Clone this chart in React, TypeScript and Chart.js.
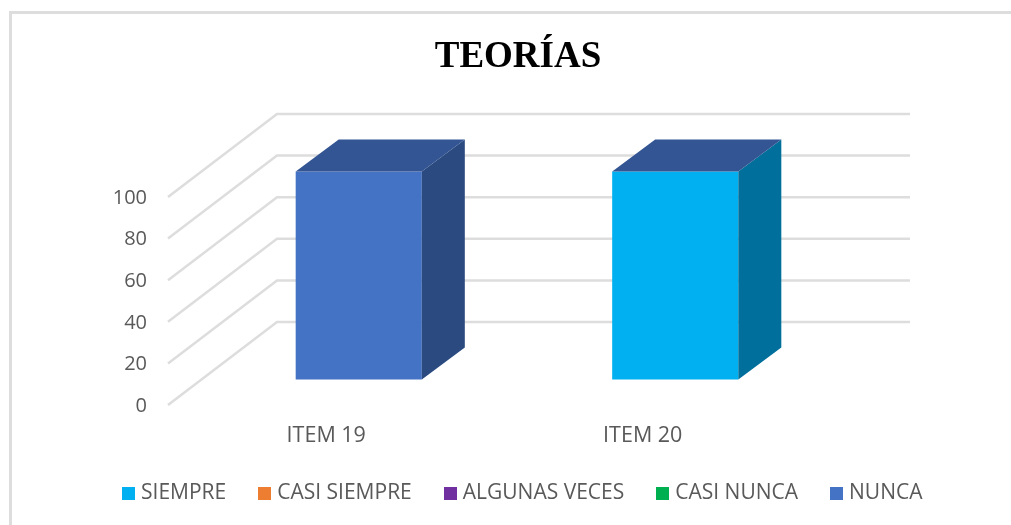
import React, { useEffect, useRef } from "react";
import { Chart, registerables } from "chart.js";

Chart.register(...registerables);

const categories = ["ITEM 19", "ITEM 20"];
const seriesNames = ["SIEMPRE", "CASI SIEMPRE", "ALGUNAS VECES", "CASI NUNCA", "NUNCA"];
const siempre = [0, 100];
const casiSiempre = [0, 0];
const algunasVeces = [0, 0];
const casiNunca = [0, 0];
const nunca = [100, 0];
const seriesValues = [siempre, casiSiempre, algunasVeces, casiNunca, nunca];
const frontColors = ["#00B0F0", "#ED7D31", "#7030A0", "#00B050", "#4472C4"];
const sideColors = ["#006F9B", "#A65722", "#4E2270", "#007B38", "#2A4A80"];
const topColor = "#335593";
const gridColor = "#DDDDDD";
const textColor = "#595959";
const fontFamily = "'Open Sans', sans-serif";

const wallDepth = { x: 109, y: 83 };
const barOffset = { x: 32.5, y: 25.5 };
const barDepth = { x: 43, y: 32 };
const titleShift = 12.5;
const legendShift = 19;

function swatch(color: string) {
  const c = document.createElement("canvas");
  c.width = 13;
  c.height = 13;
  const g = c.getContext("2d")!;
  g.fillStyle = color;
  g.fillRect(0, 0, 13, 13);
  return c;
}

function poly(ctx: CanvasRenderingContext2D, color: string, pts: number[][]) {
  ctx.fillStyle = color;
  ctx.beginPath();
  pts.forEach(([x, y], i) => (i ? ctx.lineTo(x, y) : ctx.moveTo(x, y)));
  ctx.closePath();
  ctx.fill();
}

const box3d = {
  id: "box3d",
  afterLayout(chart: any) {
    chart.titleBlock.left += titleShift;
    chart.titleBlock.right += titleShift;
    chart.legend.left += legendShift;
    chart.legend.right += legendShift;
  },
  beforeDatasetsDraw(chart: any) {
    const { ctx, scales } = chart;
    const { x: xs, y: ys } = scales;
    ctx.save();
    ctx.strokeStyle = gridColor;
    ctx.lineWidth = 2.5;
    ys.ticks.forEach((t: any) => {
      const py = ys.getPixelForValue(t.value);
      ctx.beginPath();
      ctx.moveTo(xs.left, py);
      ctx.lineTo(xs.left + wallDepth.x, py - wallDepth.y);
      ctx.lineTo(xs.right + wallDepth.x, py - wallDepth.y);
      ctx.stroke();
    });
    ctx.restore();
  },
  beforeDatasetDraw(chart: any) {
    chart.ctx.save();
    chart.ctx.translate(barOffset.x, -barOffset.y);
  },
  afterDatasetDraw(chart: any, args: any) {
    const { ctx } = chart;
    const meta = chart.getDatasetMeta(args.index);
    meta.data.forEach((el: any, i: number) => {
      if (!seriesValues[args.index][i]) return;
      const l = el.x - el.width / 2;
      const r = el.x + el.width / 2;
      const dx = barDepth.x;
      const dy = barDepth.y;
      poly(ctx, sideColors[args.index], [
        [r, el.y],
        [r + dx, el.y - dy],
        [r + dx, el.base - dy],
        [r, el.base],
      ]);
      poly(ctx, topColor, [
        [l, el.y],
        [l + dx, el.y - dy],
        [r + dx, el.y - dy],
        [r, el.y],
      ]);
    });
    ctx.restore();
  },
};

export default function App() {
  const ref = useRef<HTMLCanvasElement>(null);

  useEffect(() => {
    const swatches = frontColors.map(swatch);
    const chart = new Chart(ref.current!, {
      type: "bar",
      data: {
        labels: categories,
        datasets: seriesNames.map((label, i) => ({
          label,
          data: seriesValues[i],
          backgroundColor: frontColors[i],
          borderWidth: 0,
          barPercentage: 1,
          categoryPercentage: 0.3985,
          clip: false as any,
        })),
      },
      options: {
        animation: false,
        responsive: false,
        layout: { padding: { top: 12, left: 0, right: 0, bottom: 11.5 } },
        plugins: {
          tooltip: { enabled: false },
          title: {
            display: true,
            text: "TEORÍAS",
            color: "#000000",
            font: { family: "'Liberation Serif', serif", size: 37, weight: "bold", lineHeight: 1.2 },
            padding: { top: 23, bottom: 117.6 },
          },
          legend: {
            position: "bottom",
            labels: {
              color: textColor,
              font: { family: fontFamily, size: 21 },
              usePointStyle: true,
              pointStyleWidth: 4,
              boxHeight: 13,
              padding: 36.5,
              generateLabels(c: any) {
                return Chart.defaults.plugins.legend.labels
                  .generateLabels(c)
                  .map((it: any, i: number) => ({ ...it, pointStyle: swatches[i], hidden: false }));
              },
            },
          },
        },
        scales: {
          x: {
            stacked: true,
            grid: { display: false, drawTicks: false },
            border: { display: false },
            ticks: { color: textColor, font: { family: fontFamily, size: 21.5 }, padding: 18, maxRotation: 0 },
            afterFit(s: any) {
              s.height = 41;
            },
          },
          y: {
            stacked: true,
            min: 0,
            max: 100,
            grid: { display: false, drawTicks: false },
            border: { display: false },
            ticks: { stepSize: 20, labelOffset: 1, color: textColor, font: { family: fontFamily, size: 20 }, padding: 21 },
            afterFit(s: any) {
              s.width = 168;
            },
          },
          depth: {
            type: "linear",
            position: "right",
            grid: { display: false, drawTicks: false },
            border: { display: false },
            ticks: { display: false },
            afterFit(s: any) {
              s.width = 210;
            },
          },
        },
      } as any,
      plugins: [box3d],
    });
    return () => chart.destroy();
  }, []);

  return (
    <div style={{ position: "fixed", left: 0, top: 0, width: 1011, height: 525, overflow: "hidden", background: "#fff" }}>
      <div
        style={{
          position: "absolute",
          left: 9,
          top: 11,
          width: 1100,
          height: 700,
          border: "3px solid #DDDDDD",
        }}
      />
      <canvas ref={ref} width={1011} height={525} style={{ position: "absolute", left: 0, top: 0 }} />
    </div>
  );
}
